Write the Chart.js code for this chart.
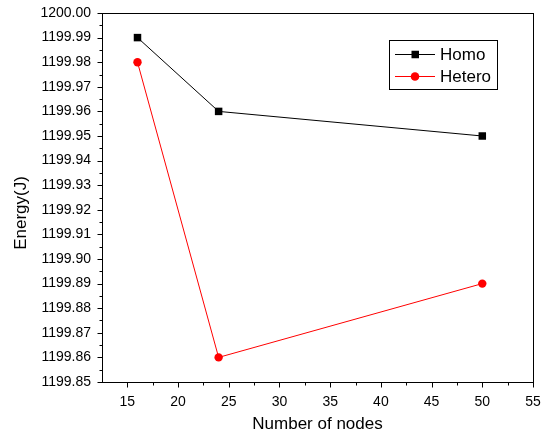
<!DOCTYPE html>
<html>
<head>
<meta charset="utf-8">
<script src="https://cdn.jsdelivr.net/npm/chart.js@4"></script>
<style>
  html, body { margin: 0; padding: 0; background: #fff; }
  #wrap { width: 541px; height: 439px; }
</style>
</head>
<body>
<div id="wrap"><canvas id="chart" width="541" height="439"></canvas></div>
<script>
const nodes = [16, 24, 50];
const homo = [1199.99, 1199.96, 1199.95];
const hetero = [1199.98, 1199.86, 1199.89];
const xTicks = [15, 20, 25, 30, 35, 40, 45, 50, 55];
const yTicks = [1199.85, 1199.86, 1199.87, 1199.88, 1199.89, 1199.90, 1199.91, 1199.92,
  1199.93, 1199.94, 1199.95, 1199.96, 1199.97, 1199.98, 1199.99, 1200.00];
const yTitle = "Energy(J)";

const font = "Liberation Sans, Arial, sans-serif";

// frame, outward tick marks (major + minor), y title and the boxed legend
const framePlugin = {
  id: "frame",
  afterDraw(chart) {
    const { ctx, chartArea: a, scales } = chart;
    const x = scales.x, y = scales.y;
    ctx.save();
    ctx.strokeStyle = "#000";
    ctx.lineWidth = 1;
    ctx.strokeRect(Math.round(a.left) + 0.5, Math.round(a.top) + 0.5,
      Math.round(a.right - a.left), Math.round(a.bottom - a.top));

    ctx.beginPath();
    const bx = Math.round(a.bottom) + 0.5;
    xTicks.forEach((v, i) => {
      const px = Math.round(x.getPixelForValue(v)) + 0.5;
      ctx.moveTo(px, bx); ctx.lineTo(px, bx + 5);
      if (i > 0) {
        const m = Math.round(x.getPixelForValue(v - 2.5)) + 0.5;
        ctx.moveTo(m, bx); ctx.lineTo(m, bx + 3);
      }
    });
    const lx = Math.round(a.left) + 0.5;
    yTicks.forEach((v, i) => {
      const py = Math.round(y.getPixelForValue(v)) + 0.5;
      ctx.moveTo(lx, py); ctx.lineTo(lx - 5, py);
      if (i > 0) {
        const m = Math.round(y.getPixelForValue(v - 0.005)) + 0.5;
        ctx.moveTo(lx, m); ctx.lineTo(lx - 3, m);
      }
    });
    ctx.stroke();

    // y axis title, sits a little below the plot centre in the original
    ctx.save();
    ctx.translate(21, 213);
    ctx.rotate(-Math.PI / 2);
    ctx.fillStyle = "#000";
    ctx.font = "17px " + font;
    ctx.textAlign = "center";
    ctx.textBaseline = "middle";
    ctx.fillText(yTitle, 0, 0);
    ctx.restore();

    // legend
    ctx.strokeRect(389.5, 40.5, 108, 49);
    const rows = [54, 76];
    chart.data.datasets.forEach((ds, i) => {
      const ry = rows[i] + 0.5;
      ctx.strokeStyle = ds.borderColor;
      ctx.beginPath();
      ctx.moveTo(395, ry); ctx.lineTo(435, ry);
      ctx.stroke();
      ctx.fillStyle = ds.backgroundColor;
      if (ds.pointStyle === "rect") {
        ctx.fillRect(411.5, ry - 3.75, 7.5, 7.5);
      } else {
        ctx.beginPath();
        ctx.arc(415, ry, 4.3, 0, Math.PI * 2);
        ctx.fill();
      }
      ctx.fillStyle = "#000";
      ctx.font = "17px " + font;
      ctx.textBaseline = "middle";
      ctx.fillText(ds.label, 440, ry + 1);
    });
    ctx.restore();
  }
};

new Chart(document.getElementById("chart"), {
  type: "scatter",
  data: {
    datasets: [
      {
        label: "Homo",
        data: nodes.map((n, i) => ({ x: n, y: homo[i] })),
        showLine: true,
        borderColor: "#000",
        backgroundColor: "#000",
        borderWidth: 1,
        pointStyle: "rect",
        pointRadius: 5.3,
        pointBorderWidth: 0
      },
      {
        label: "Hetero",
        data: nodes.map((n, i) => ({ x: n, y: hetero[i] })),
        showLine: true,
        borderColor: "#ff0000",
        backgroundColor: "#ff0000",
        borderWidth: 1,
        pointStyle: "circle",
        pointRadius: 4.2,
        pointBorderWidth: 0
      }
    ]
  },
  options: {
    responsive: false,
    animation: false,
    layout: { padding: { top: 13, right: 8, left: 0, bottom: 0 } },
    plugins: { legend: { display: false }, tooltip: { enabled: false } },
    scales: {
      x: {
        type: "linear",
        min: 12.5,
        max: 55,
        afterBuildTicks: s => { s.ticks = xTicks.map(v => ({ value: v })); },
        afterFit: s => { s.height = 57; s.paddingLeft = 0; s.paddingRight = 0; },
        grid: { display: false, drawTicks: false },
        border: { display: false },
        ticks: { color: "#000", font: { family: font, size: 14 }, padding: 12, maxRotation: 0 },
        title: { display: true, text: "Number of nodes", color: "#000", font: { family: font, size: 17 }, padding: { top: 6 } }
      },
      y: {
        type: "linear",
        min: 1199.85,
        max: 1200.00,
        afterBuildTicks: s => { s.ticks = yTicks.map(v => ({ value: v })); },
        afterFit: s => { s.width = 102; s.paddingTop = 0; s.paddingBottom = 0; },
        grid: { display: false, drawTicks: false },
        border: { display: false },
        ticks: { color: "#000", font: { family: font, size: 14 }, padding: 11, callback: v => v.toFixed(2) }
      }
    }
  },
  plugins: [framePlugin]
});
</script>
</body>
</html>
